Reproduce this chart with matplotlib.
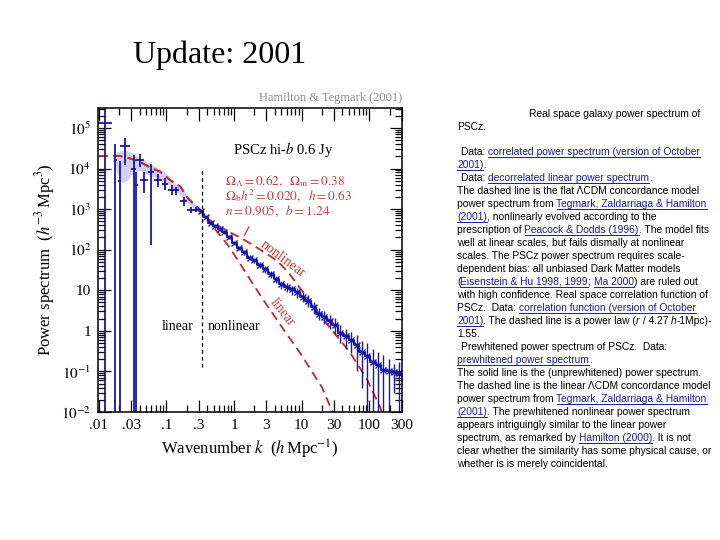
import numpy as np
import matplotlib
matplotlib.use("Agg")
import matplotlib.pyplot as plt
from matplotlib.font_manager import FontProperties
from matplotlib.ticker import FixedLocator, FixedFormatter, LogLocator, NullFormatter

plt.rcParams["font.family"] = "Liberation Serif"
plt.rcParams["mathtext.fontset"] = "stix"

# --- model curves (flat LCDM) ---
k_nonlin = [0.01, 0.0126, 0.02, 0.028, 0.04, 0.056, 0.08, 0.113, 0.16, 0.21, 0.28, 0.36,
            0.42, 0.6, 0.84, 1.3, 1.9, 2.7, 3.8, 5.0, 6.4, 10, 15, 25, 50, 90, 145, 170]
P_nonlin = [2.05e4, 2.05e4, 2.05e4, 1.8e4, 1.48e4, 1.08e4, 8.4e3, 5.2e3, 3.6e3, 1.8e3, 1.15e3, 790,
            560, 380, 275, 190, 130, 90, 62, 42, 27, 10, 4.0, 1.3, 0.32, 0.07, 0.013, 0.006]

k_lin = [0.01, 0.0126, 0.02, 0.028, 0.04, 0.056, 0.08, 0.113, 0.16, 0.21, 0.28, 0.36,
         0.53, 0.81, 1.18, 1.67, 2.7, 5.0, 10, 20, 28, 35]
P_lin = [2.05e4, 2.05e4, 2.05e4, 1.8e4, 1.48e4, 1.08e4, 8.4e3, 5.2e3, 3.6e3, 1.8e3, 1.15e3, 750,
         310, 130, 50, 20, 5.8, 1.3, 0.25, 0.04, 0.011, 0.005]

# --- shaded band at large scales ---
band_k = [0.016, 0.019, 0.022, 0.026, 0.03, 0.035, 0.04, 0.05, 0.06, 0.08, 0.1, 0.13, 0.17, 0.22, 0.28, 0.33]
band_lo = [1.5e4, 7e3, 4.5e3, 5e3, 7e3, 8.5e3, 9e3, 7.5e3, 6.5e3, 5.5e3, 4.5e3, 3e3, 2e3, 1.3e3, 880, 760]
band_hi = [2.2e4, 2.6e4, 2.8e4, 2.8e4, 2.5e4, 2.1e4, 1.9e4, 1.5e4, 1.25e4, 1.0e4, 7.5e3, 4.5e3, 3.2e3, 1.9e3, 1.15e3, 900]

# --- large scale data points (big error bars) ---
k_big = [0.0125, 0.0175, 0.0205, 0.0245, 0.033, 0.036, 0.040, 0.046, 0.060, 0.075, 0.095, 0.12, 0.14, 0.18, 0.23, 0.27]
P_big = [1.3e5, 1.6e4, 5e3, 3.6e4, 1.0e4, 4e3, 1.6e4, 5.2e3, 8.2e3, 5.2e3, 4.2e3, 3e3, 2.9e3, 1.6e3, 950, 950]
lo_big = [1e-4, 1e-4, 1e-4, 1.2e4, 1e-4, 1e-4, 1.1e4, 2.5e3, 130, 3.5e3, 3e3, 2.2e3, 2.2e3, 1.2e3, 800, 850]
hi_big = [1e7, 4e4, 1.5e4, 5.5e4, 2.2e4, 8e3, 2.3e4, 8e3, 1.3e4, 7.5e3, 6e3, 4e3, 3.6e3, 2e3, 1.15e3, 1.1e3]
kl_big = [0.0098, 0.0165, 0.0195, 0.0205, 0.030, 0.034, 0.036, 0.040, 0.053, 0.066, 0.085, 0.107, 0.13, 0.16, 0.20, 0.25]
kh_big = [0.0155, 0.0185, 0.0215, 0.029, 0.036, 0.038, 0.046, 0.053, 0.066, 0.085, 0.105, 0.135, 0.155, 0.20, 0.26, 0.30]

# --- small scale data points ---
k_small = [0.32, 0.38, 0.45, 0.53, 0.62, 0.72, 0.85, 1.0, 1.2, 1.4, 1.7, 2.0, 2.4, 2.9, 3.5, 4.2, 5.0,
           6.0, 7.2, 8.6, 10.3, 12.4, 15, 18, 21.5, 26, 31, 37, 45, 54, 65, 78, 94, 113, 135, 162, 195, 235, 280]
P_small = [900, 650, 455, 380, 330, 270, 210, 150, 112, 88, 64, 55, 42, 33, 25, 19, 14,
           12, 10.5, 9, 7, 5.5, 3.8, 2.6, 2.2, 1.7, 1.4, 0.9, 0.75, 0.6, 0.45, 0.3, 0.24, 0.17, 0.14, 0.11, 0.1, 0.095, 0.09]
lo_small = [820, 590, 410, 340, 295, 240, 185, 133, 98, 76, 55, 46, 35, 27, 20, 15, 10.5,
            9, 7.8, 6.5, 5, 3.8, 2.6, 1.8, 1.5, 1.1, 0.85, 0.5, 0.35, 0.28, 0.1, 0.04, 1e-4, 1e-4, 1e-4, 1e-4, 1e-4, 0.03, 1e-4]
hi_small = [990, 720, 500, 420, 365, 300, 235, 168, 126, 100, 73, 64, 49, 39, 30, 23, 17,
            15, 13, 11.5, 9, 7.5, 5, 3.6, 3.0, 2.4, 2.1, 1.4, 1.1, 0.95, 0.8, 0.55, 0.5, 0.35, 0.3, 0.25, 0.2, 0.15, 0.17]

xticks = [0.01, 0.03, 0.1, 0.3, 1, 3, 10, 30, 100, 300]
xticklabels = [".01", ".03", ".1", ".3", "1", "3", "10", "30", "100", "300"]
yticks = [1e-2, 1e-1, 1, 10, 1e2, 1e3, 1e4, 1e5]
yticklabels = [r"$10^{-2}$", r"$10^{-1}$", "1", "10", r"$10^{2}$", r"$10^{3}$", r"$10^{4}$", r"$10^{5}$"]

BLUE = "#1616a8"
RED = "#c0282d"
RED_TXT = "#cc3c3c"

fig = plt.figure(figsize=(7.2, 5.4), dpi=100)
fig.text(133 / 720, 1 - 55 / 540, "Update: 2001", fontsize=23, va="center", ha="left")

ax = fig.add_axes([98 / 720, 1 - 412 / 540, 304 / 720, 304 / 540])
ax.set_xscale("log")
ax.set_yscale("log")

ax.fill_between(band_k, band_lo, band_hi, color="#d0d0f2", lw=0)
ax.plot(k_lin, P_lin, color=RED, lw=1.3, dashes=(5, 3))
ax.plot(k_nonlin, P_nonlin, color=RED, lw=1.3, dashes=(5, 3))

kb = np.array(k_big)
Pb = np.array(P_big)
ax.errorbar(kb, Pb, yerr=[Pb - np.array(lo_big), np.array(hi_big) - Pb],
            xerr=[kb - np.array(kl_big), np.array(kh_big) - kb],
            fmt="none", ecolor=BLUE, elinewidth=1.3, capsize=0)

ks = np.array(k_small)
Ps = np.array(P_small)
edges = np.sqrt(ks[1:] * ks[:-1])
kl_s = np.concatenate([[ks[0] ** 1.5 / ks[1] ** 0.5], edges])
kh_s = np.concatenate([edges, [ks[-1] ** 1.5 / ks[-2] ** 0.5]])
ax.errorbar(ks, Ps, yerr=[Ps - np.array(lo_small), np.array(hi_small) - Ps],
            xerr=[ks - kl_s, kh_s - ks], fmt="none", ecolor=BLUE, elinewidth=1.0, capsize=0)
ax.step(ks, Ps, where="mid", color=BLUE, lw=1.4)
ax.plot(ks, Ps, ls="none", marker="x", ms=4, mew=1.0, color=BLUE)

ax.vlines(0.34, 0.13, 1.03e4, colors="black", linestyles=(0, (3, 2.5)), lw=0.9)

ax.set_xlim(0.0097, 305)
ax.set_ylim(0.01, 3.1e5)

ax.xaxis.set_major_locator(FixedLocator(xticks))
ax.xaxis.set_major_formatter(FixedFormatter(xticklabels))
ax.xaxis.set_minor_locator(LogLocator(base=10, subs=np.arange(2, 10), numticks=20))
ax.xaxis.set_minor_formatter(NullFormatter())
ax.yaxis.set_major_locator(FixedLocator(yticks))
ax.yaxis.set_major_formatter(FixedFormatter(yticklabels))
ax.yaxis.set_minor_locator(LogLocator(base=10, subs=np.arange(2, 10), numticks=20))
ax.yaxis.set_minor_formatter(NullFormatter())
ax.tick_params(which="both", direction="in", top=True, right=True, width=0.9)
ax.tick_params(which="major", length=9, labelsize=11, pad=5)
ax.tick_params(which="minor", length=5)
for s in ax.spines.values():
    s.set_linewidth(1.1)

ax.set_xlabel(r"Wavenumber $k$  ($h\,$Mpc$^{-1}$)", fontsize=12, labelpad=4)
ax.set_ylabel(r"Power spectrum  ($h^{-3}\,$Mpc$^{3}$)", fontsize=12, labelpad=3)

ax.text(1.0, 1.033, "Hamilton & Tegmark (2001)", transform=ax.transAxes, ha="right",
        va="center", fontsize=9, color="#8c8c8c")
ax.text(0.444, 0.862, r"PSCz hi-$b$ 0.6 Jy", transform=ax.transAxes, fontsize=10.5, va="center")
params = [r"$\Omega_\Lambda = 0.62,\ \ \Omega_{\rm m} = 0.38$",
          r"$\Omega_{\rm b}h^2 = 0.020,\ \ h = 0.63$",
          r"$n = 0.905,\ \ b = 1.24$"]
for i, p in enumerate(params):
    ax.text(0.418, 0.760 - i * 0.049, p, transform=ax.transAxes, fontsize=9.5,
            color=RED_TXT, va="center")
ax.annotate("", xy=(1.36, 195), xytext=(1.73, 420),
            arrowprops=dict(arrowstyle="-", color=RED_TXT, lw=1.0))
ax.text(5.3, 59, "nonlinear", rotation=-37, color=RED_TXT, fontsize=10,
        ha="center", va="center", rotation_mode="anchor")
ax.text(5.2, 2.8, "linear", rotation=-52, color=RED_TXT, fontsize=10,
        ha="center", va="center", rotation_mode="anchor")
ax.text(0.148, 1.26, "linear", fontsize=10, ha="center", va="center")
ax.text(1.0, 1.26, "nonlinear", fontsize=10, ha="center", va="center")

# --- caption text on the right ---
header = "Real space galaxy power spectrum of"
body = [
    [("Data: ", "n"), ("correlated power spectrum (version of October", "l")],
    [("2001)", "l"), (".", "n")],
    [("Data: ", "n"), ("decorrelated linear power spectrum", "l"), (".", "n")],
    [("The dashed line is the flat \u039bCDM concordance model", "n")],
    [("power spectrum from ", "n"), ("Tegmark, Zaldarriaga & Hamilton", "l")],
    [("(2001)", "l"), (", nonlinearly evolved according to the", "n")],
    [("prescription of ", "n"), ("Peacock & Dodds (1996)", "l"), (". The model fits", "n")],
    [("well at linear scales, but fails dismally at nonlinear", "n")],
    [("scales. The PSCz power spectrum requires scale-", "n")],
    [("dependent bias: all unbiased Dark Matter models", "n")],
    [("(", "n"), ("Eisenstein & Hu 1998, 1999", "l"), ("; ", "n"), ("Ma 2000", "l"), (") are ruled out", "n")],
    [("with high confidence. Real space correlation function of", "n")],
    [("PSCz.  Data: ", "n"), ("correlation function (version of October", "l")],
    [("2001)", "l"), (". The dashed line is a power law (", "n"), ("r", "i"), (" / 4.27 ", "n"),
     ("h", "i"), ("-1Mpc)-", "n")],
    [("1.55.", "n")],
    [("Prewhitened power spectrum of PSCz.  Data:", "n")],
    [("prewhitened power spectrum", "l"), (".", "n")],
    [("The solid line is the (unprewhitened) power spectrum.", "n")],
    [("The dashed line is the linear \u039bCDM concordance model", "n")],
    [("power spectrum from ", "n"), ("Tegmark, Zaldarriaga & Hamilton", "l")],
    [("(2001)", "l"), (". The prewhitened nonlinear power spectrum", "n")],
    [("appears intriguingly similar to the linear power", "n")],
    [("spectrum, as remarked by ", "n"), ("Hamilton (2000)", "l"), (". It is not", "n")],
    [("clear whether the similarity has some physical cause, or", "n")],
    [("whether is is merely coincidental.", "n")],
]
indented = {0, 2, 15}

renderer = fig.canvas.get_renderer()
fam = "Liberation Sans"


def width(s, prop):
    w, h, d = renderer.get_text_width_height_descent(s, prop, ismath=False)
    return w


probe = FontProperties(family=fam, size=10)
fs = 10 * 252 / width("with high confidence. Real space correlation function of", probe)
props = {"n": FontProperties(family=fam, size=fs),
         "l": FontProperties(family=fam, size=fs),
         "i": FontProperties(family=fam, size=fs, style="italic")}
colors = {"n": "black", "l": "#1c1c9e", "i": "black"}
bar_w = width("|", props["n"])


def draw_line(x0, yc, segs):
    base = yc + 3
    prefix = ""
    x = x0
    for txt, kind in segs:
        if prefix:
            x = x0 + width(prefix + "|", props["n"]) - bar_w
        fig.text(x / 720, 1 - base / 540, txt, fontproperties=props[kind],
                 color=colors[kind], va="baseline", ha="left")
        if kind == "l":
            w = width(txt, props[kind])
            fig.add_artist(plt.Line2D([x / 720, (x + w) / 720],
                                      [1 - (base + 1.6) / 540, 1 - (base + 1.6) / 540],
                                      color=colors[kind], lw=0.7))
        prefix += txt


draw_line(529, 114, [(header, "n")])
draw_line(457, 127, [("PSCz.", "n")])
for i, segs in enumerate(body):
    draw_line(461 if i in indented else 457, 152 + 13 * i, segs)

fig.savefig("out.png", dpi=100, facecolor="white")
